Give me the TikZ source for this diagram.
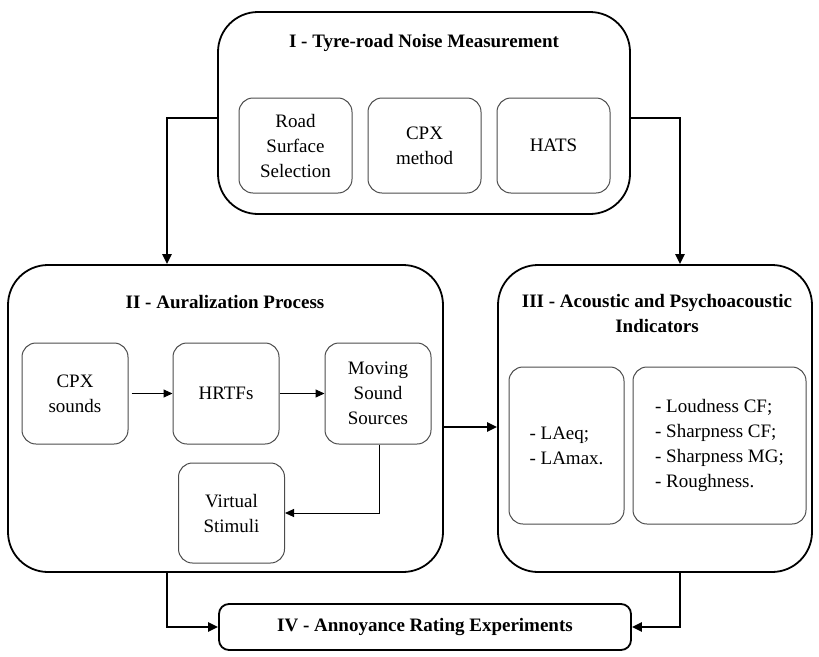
\documentclass[tikz,border=0pt]{standalone}
\usepackage{fontspec}
\setmainfont{Liberation Serif}
\usetikzlibrary{arrows.meta, positioning}
\tikzstyle{stage}=[draw, line width=1.8pt, rounded corners=40pt]
\tikzstyle{task}=[draw=black!70, line width=1pt, rounded corners=14pt, align=center, inner sep=2pt, font=\fontsize{19}{25}\selectfont]
\tikzstyle{heading}=[align=center, font=\bfseries\fontsize{19}{25}\selectfont]
\tikzstyle{link}=[line width=2.4pt, -{Triangle[length=10pt,width=9pt]}]
\tikzstyle{flow}=[line width=1pt, -{Triangle[length=9pt,width=8pt]}]

\begin{document}
\begin{tikzpicture}[x=1pt, y=-1pt]
  \useasboundingbox (0,0) rectangle (819,656);
  % stages
  \node[stage, minimum width=412pt, minimum height=202pt] (meas) at (424,113) {};
  \node[stage, minimum width=435pt, minimum height=307pt] (aur) at (225.5,418.5) {};
  \node[stage, minimum width=314pt, minimum height=307pt] (ind) at (655,418.5) {};
  \node[stage, heading, rounded corners=10pt, minimum width=412pt, minimum height=46pt] (rate) at (425,627) {IV - Annoyance Rating Experiments};
  \node[heading] (measT) at (424,43) {I - Tyre-road Noise Measurement};
  \node[heading] (aurT) at (225,302) {II - Auralization Process};
  \node[heading] (indT) at (657,313) {III - Acoustic and Psychoacoustic\\Indicators};
  % stage I
  \node[task, minimum width=113pt, minimum height=95pt] (road) at (295.5,145.5) {Road\\Surface\\Selection};
  \node[task, minimum width=113pt, minimum height=95pt] (cpx) [right=15pt of road] {CPX\\method};
  \node[task, minimum width=113pt, minimum height=95pt] (hats) [right=15pt of cpx] {HATS};
  % stage II
  \node[task, minimum width=106pt, minimum height=101pt] (snd) at (75,393.5) {CPX\\sounds};
  \node[task, minimum width=106pt, minimum height=101pt] (hrtf) [right=44pt of snd] {HRTFs};
  \node[task, minimum width=106pt, minimum height=101pt] (mov) [right=45pt of hrtf] {Moving\\Sound\\Sources};
  \node[task, minimum width=106pt, minimum height=100pt] (virt) [below=18pt of hrtf, xshift=5.5pt] {Virtual\\Stimuli};
  % stage III
  \node[task, align=left, minimum width=115pt, minimum height=157pt] (leq) at (566.5,445.5) {- LAeq;\\- LAmax.};
  \node[task, align=left, minimum width=173pt, minimum height=157pt] (psy) [right=8pt of leq] {- Loudness CF;\\- Sharpness CF;\\- Sharpness MG;\\- Roughness.};
  % connectors
  \draw[link] ([yshift=-5pt]meas.west) -| ([xshift=-58.5pt]aur.north);
  \draw[link] ([yshift=-5pt]meas.east) -| ([xshift=25pt]ind.north);
  \draw[link] ([yshift=-8.5pt]aur.east) -- ([yshift=-8.5pt]ind.west);
  \draw[link] ([xshift=-58.5pt]aur.south) |- (rate.west);
  \draw[link] ([xshift=25pt]ind.south) |- (rate.east);
  \draw[flow] ([xshift=3pt]snd.east) -- (hrtf);
  \draw[flow] (hrtf) -- (mov);
  \draw[flow] ([xshift=1.5pt]mov.south) |- (virt.east);
\end{tikzpicture}
\end{document}
